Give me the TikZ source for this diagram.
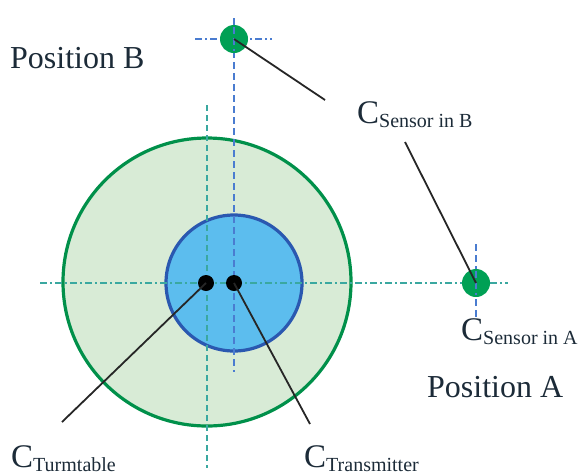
\documentclass[tikz,border=0pt]{standalone}
\usepackage{fontspec}
\setmainfont{Liberation Serif}
\definecolor{txt}{HTML}{1C2B38}
\definecolor{bigfill}{HTML}{D8EBD6}
\definecolor{bigline}{HTML}{00904A}
\definecolor{bluefill}{HTML}{5CBDEE}
\definecolor{blueline}{HTML}{2A58B0}
\definecolor{sensorfill}{HTML}{00A055}
\definecolor{tealdash}{HTML}{3AA8A0}
\definecolor{bluedash}{HTML}{4A7CD0}
\begin{document}
\begin{tikzpicture}[x=1pt,y=-1pt,
  lbl/.style={anchor=base west,inner sep=0pt,text=txt},
  conn/.style={draw=black!85,line width=1.8pt},
  gdash/.style={draw=tealdash,line width=1.3pt,dash pattern=on 7pt off 3pt on 2pt off 3pt},
  gvdash/.style={draw=tealdash,line width=1.3pt,dash pattern=on 6pt off 4pt},
  bdash/.style={draw=bluedash,line width=1.3pt,dash pattern=on 7pt off 4pt},
  bdashdot/.style={draw=bluedash,line width=1.3pt,dash pattern=on 7pt off 3pt on 2pt off 3pt},
  sensor/.style={circle,fill=sensorfill,minimum size=28pt,inner sep=0pt},
  dot/.style={circle,fill=black,minimum size=16pt,inner sep=0pt}]
\useasboundingbox (0,0) rectangle (580,475);
% big turntable circle
\node[circle,draw=bigline,fill=bigfill,line width=3.2pt,minimum size=288pt,inner sep=0pt] (turn) at (207,282) {};
% transmitter disc
\node[circle,draw=blueline,fill=bluefill,line width=3.2pt,minimum size=136pt,inner sep=0pt] (trans) at (234,283) {};
% dashed axes
\draw[gvdash] (207,105) -- (207,468);
\draw[bdash] (234,18) -- (234,372);
\draw[gdash] (40,283) -- (508,283);
\draw[bdashdot] (195,39) -- (272,39);
\draw[bdash] (476,244) -- (476,320);
% sensors
\node[sensor] (sB) at (234,39) {};
\node[sensor] (sA) at (476,283) {};
\draw[bdash] (234,27) -- (234,51);
\draw[bdash] (476,271) -- (476,295);
% centre dots
\node[dot] (cT) at (206,283) {};
\node[dot] (cX) at (234,283) {};
% labels
\newcommand{\Clab}[1]{{\fontsize{33}{33}\selectfont C}\raisebox{-4pt}{\fontsize{20}{20}\selectfont #1}}
\node[lbl,font=\fontsize{32}{32}\selectfont] (posB) at (10,68) {Position B};
\node[lbl,font=\fontsize{32}{32}\selectfont] (posA) at (427,397) {Position A};
\node[lbl] (lB) at (357,123) {\Clab{Sensor in B}};
\node[lbl] (lA) at (461,340) {\Clab{Sensor in A}};
\node[lbl] (lT) at (11,467) {\Clab{Turmtable}};
\node[lbl] (lX) at (304,467) {\Clab{Transmitter}};
% connectors
\coordinate (eB) at (325,100);
\coordinate (eA) at (405,142);
\coordinate (eT) at (62,422);
\coordinate (eX) at (310,424);
\draw[conn] (sB.center) -- (eB);
\draw[conn] (eA) -- (sA.center);
\draw[conn] (cT.center) -- (eT);
\draw[conn] (cX.center) -- (eX);
\end{tikzpicture}
\end{document}
